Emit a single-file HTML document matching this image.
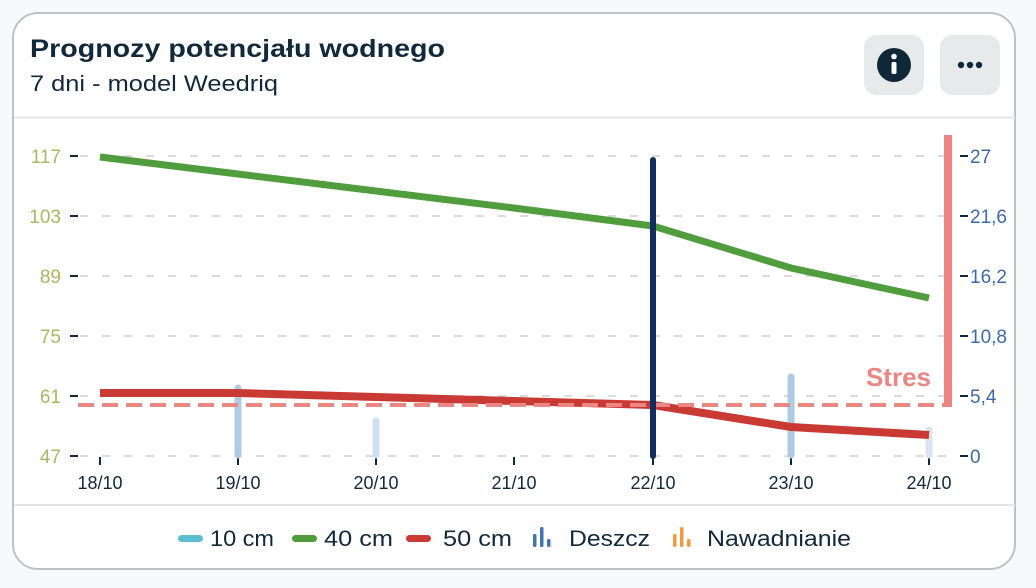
<!DOCTYPE html>
<html><head><meta charset="utf-8"><style>
html,body{margin:0;padding:0;background:#f7f9fb;}
body{width:1036px;height:588px;position:relative;overflow:hidden;font-family:"Liberation Sans",sans-serif;}
.card{position:absolute;left:12px;top:12px;width:1004px;height:558px;background:#fff;border:2px solid #bfc1c4;border-radius:26px;box-sizing:border-box;}
</style></head><body>
<div class="card"></div>
<svg width="1036" height="588" style="position:absolute;left:0;top:0" font-family="Liberation Sans, sans-serif">
<text x="30" y="57" font-size="25" font-weight="bold" fill="#11293a" textLength="415" lengthAdjust="spacingAndGlyphs">Prognozy potencjału wodnego</text>
<text x="30" y="91" font-size="22" fill="#11293a" textLength="248" lengthAdjust="spacingAndGlyphs">7 dni - model Weedriq</text>
<rect x="864" y="35" width="60" height="60" rx="12" fill="#e8e9ea"/>
<circle cx="894" cy="65" r="17" fill="#0f2838"/>
<rect x="891.5" y="62" width="5" height="12" rx="1.5" fill="#fff"/><circle cx="894" cy="56.5" r="2.8" fill="#fff"/>
<rect x="940" y="35" width="60" height="60" rx="12" fill="#e8e9ea"/>
<circle cx="961" cy="65" r="3.2" fill="#0f2838"/><circle cx="970" cy="65" r="3.2" fill="#0f2838"/><circle cx="979" cy="65" r="3.2" fill="#0f2838"/>
<line x1="14" y1="117.5" x2="1015" y2="117.5" stroke="#e6e6e6" stroke-width="2"/>
<line x1="14" y1="505" x2="1015" y2="505" stroke="#e6e6e6" stroke-width="2"/>
<g stroke="#cfcfcf" stroke-width="1.5" stroke-dasharray="8,14">
<line x1="80" y1="156" x2="950" y2="156"/><line x1="80" y1="216" x2="950" y2="216"/><line x1="80" y1="276" x2="950" y2="276"/><line x1="80" y1="336" x2="950" y2="336"/><line x1="80" y1="396" x2="950" y2="396"/><line x1="80" y1="456" x2="950" y2="456"/>
</g>
<g stroke="#11293a" stroke-width="2">
<line x1="70" y1="156" x2="78" y2="156"/><line x1="70" y1="216" x2="78" y2="216"/><line x1="70" y1="276" x2="78" y2="276"/><line x1="70" y1="336" x2="78" y2="336"/><line x1="70" y1="396" x2="78" y2="396"/><line x1="70" y1="456" x2="78" y2="456"/>
<line x1="960" y1="156" x2="968" y2="156"/><line x1="960" y1="216" x2="968" y2="216"/><line x1="960" y1="276" x2="968" y2="276"/><line x1="960" y1="336" x2="968" y2="336"/><line x1="960" y1="396" x2="968" y2="396"/><line x1="960" y1="456" x2="968" y2="456"/>
<line x1="100" y1="457" x2="100" y2="465"/><line x1="238" y1="457" x2="238" y2="465"/><line x1="376" y1="457" x2="376" y2="465"/><line x1="514" y1="457" x2="514" y2="465"/><line x1="653" y1="457" x2="653" y2="465"/><line x1="791" y1="457" x2="791" y2="465"/><line x1="929" y1="457" x2="929" y2="465"/>
</g>
<g font-size="19" fill="#a8b865" text-anchor="end">
<text x="61" y="163">117</text><text x="61" y="223">103</text><text x="61" y="283">89</text><text x="61" y="343">75</text><text x="61" y="403">61</text><text x="61" y="463">47</text>
</g>
<g font-size="19" fill="#3d6aa6">
<text x="970" y="163">27</text><text x="970" y="223">21,6</text><text x="970" y="283">16,2</text><text x="970" y="343">10,8</text><text x="970" y="403">5,4</text><text x="970" y="463">0</text>
</g>
<g font-size="18" fill="#11293a" text-anchor="middle">
<text x="100" y="489">18/10</text><text x="238" y="489">19/10</text><text x="376" y="489">20/10</text><text x="514" y="489">21/10</text><text x="653" y="489">22/10</text><text x="791" y="489">23/10</text><text x="929" y="489">24/10</text>
</g>
<g stroke-linecap="round" stroke-width="7">
<line x1="238" y1="388" x2="238" y2="455" stroke="#afcbe3"/>
<line x1="376" y1="421" x2="376" y2="455" stroke="#cfdff0"/>
<line x1="791" y1="377" x2="791" y2="455" stroke="#afcbe3"/>
<line x1="929" y1="430" x2="929" y2="455" stroke="#d8e5f1"/>
</g>
<polyline points="100,157 238,174 376,191 514,208 653,226 791,268 929,298" fill="none" stroke="#4f9d3c" stroke-width="7"/>
<polyline points="100,393 238,393 376,397 514,401 653,405 791,427 929,435" fill="none" stroke="#c83a33" stroke-width="8"/>
<line x1="78" y1="405" x2="950" y2="405" stroke="#ec8683" stroke-width="4" stroke-dasharray="16,8"/>
<rect x="944" y="135" width="8" height="272" fill="#ec8683"/>
<text x="931" y="386" font-size="26" font-weight="bold" fill="#ec8683" text-anchor="end">Stres</text>
<line x1="653" y1="160" x2="653" y2="456" stroke="#132e5e" stroke-width="6" stroke-linecap="round"/>
<rect x="178" y="535" width="25" height="7" rx="3.5" fill="#5bbfd0"/>
<text x="210" y="546" font-size="22" fill="#11293a" textLength="64" lengthAdjust="spacingAndGlyphs">10 cm</text>
<rect x="292" y="535" width="25" height="7" rx="3.5" fill="#4f9d3c"/>
<text x="324" y="546" font-size="22" fill="#11293a" textLength="69" lengthAdjust="spacingAndGlyphs">40 cm</text>
<rect x="406" y="535" width="25" height="7" rx="3.5" fill="#c83a33"/>
<text x="443" y="546" font-size="22" fill="#11293a" textLength="69" lengthAdjust="spacingAndGlyphs">50 cm</text>
<g fill="#4472b3"><rect x="533" y="534" width="3.5" height="13" rx="1.5"/><rect x="540" y="527" width="3.5" height="20" rx="1.5"/><rect x="547" y="539" width="3.5" height="8" rx="1.5"/></g>
<text x="569" y="546" font-size="22" fill="#11293a" textLength="81" lengthAdjust="spacingAndGlyphs">Deszcz</text>
<g fill="#ef9a3c"><rect x="673" y="534" width="3.5" height="13" rx="1.5"/><rect x="680" y="527" width="3.5" height="20" rx="1.5"/><rect x="687" y="539" width="3.5" height="8" rx="1.5"/></g>
<text x="707" y="546" font-size="22" fill="#11293a" textLength="144" lengthAdjust="spacingAndGlyphs">Nawadnianie</text>
</svg>
</body></html>
